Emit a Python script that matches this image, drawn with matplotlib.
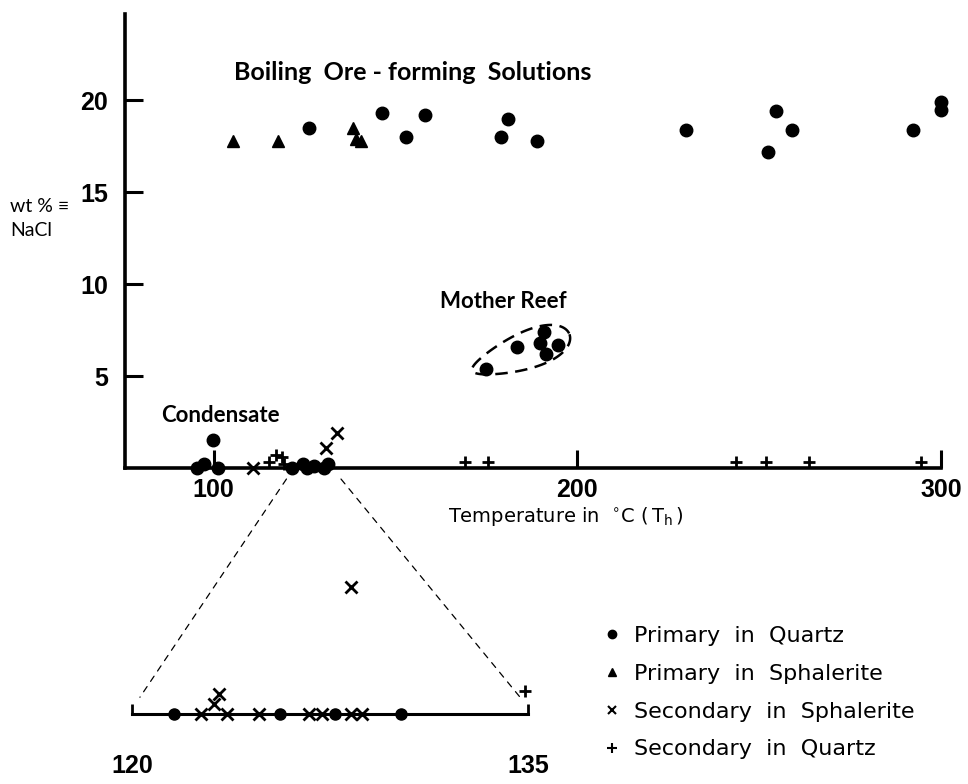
import matplotlib
matplotlib.use("Agg")
import matplotlib.pyplot as plt
from matplotlib.patches import ConnectionPatch, Polygon
from matplotlib.lines import Line2D
import numpy as np

# ---------------- data ----------------
# Primary in Quartz - main plot (T in deg C, wt% NaCl)
pq_T = [126.1, 146.4, 153.0, 158.0, 179.1, 181.0, 189.0, 229.9, 252.5, 254.7,
        259.1, 292.3, 300.0, 300.0,
        175.0, 183.5, 190.7, 189.8, 191.5, 194.8,
        99.7, 95.3, 97.3, 101.1,
        121.6, 124.5, 125.6, 127.7, 130.2, 131.5]
pq_W = [18.5, 19.3, 18.0, 19.2, 18.0, 19.0, 17.8, 18.4, 17.2, 19.4,
        18.4, 18.4, 19.5, 19.9,
        5.4, 6.6, 7.4, 6.8, 6.2, 6.7,
        1.5, 0.0, 0.2, 0.0,
        0.0, 0.2, 0.0, 0.1, 0.0, 0.2]
# Mother Reef subset
mother_reef_T = [175.0, 183.5, 190.7, 189.8, 191.5, 194.8]
mother_reef_W = [5.4, 6.6, 7.4, 6.8, 6.2, 6.7]

# Primary in Sphalerite
ps_T = [105.2, 117.6, 138.2, 139.0, 140.4]
ps_W = [17.8, 17.8, 18.5, 17.9, 17.8]

# Secondary in Sphalerite
ss_T = [110.7, 130.8, 133.8]
ss_W = [0.0, 1.1, 1.9]

# Secondary in Quartz
sq_T = [115.1, 117.0, 118.9, 119.3, 169.0, 175.3, 243.7, 251.9, 263.7, 294.5]
sq_W = [0.3, 0.7, 0.6, 0.2, 0.3, 0.3, 0.3, 0.3, 0.3, 0.3]

# Expanded 120-135 range (inset)
in_pq_T = [121.6, 125.6, 127.7, 130.2]
in_pq_W = [0.0, 0.0, 0.0, 0.0]
in_ss_T = [122.6, 123.1, 123.3, 123.6, 124.8, 126.7, 127.2, 128.3, 128.7, 128.3]
in_ss_W = [0.0, 0.15, 0.3, 0.0, 0.0, 0.0, 0.0, 0.0, 0.0, 1.9]
in_sq_T = [134.9]
in_sq_W = [0.34]

x_ticks = [100, 200, 300]
y_ticks = [5, 10, 15, 20]
inset_ticks = [120, 135]

# ---------------- figure ----------------
W, H = 968, 784
fig = plt.figure(figsize=(W / 100, H / 100), dpi=100)
num_font = "Liberation Sans"
txt_font = "Lato"
leg_font = "DejaVu Sans"

def fx(px):
    return px / W

def fy(py):
    return 1 - py / H

ax = fig.add_axes([fx(125), fy(468), (941 - 125) / W, (468 - 14) / H])
ax.set_xlim(75.6, 300)
ax.set_ylim(0, 24.7)
for s in ["top", "right"]:
    ax.spines[s].set_visible(False)
for s in ["left", "bottom"]:
    ax.spines[s].set_linewidth(2.6)
ax.set_xticks(x_ticks)
ax.set_yticks(y_ticks)
ax.tick_params(axis="both", direction="in", length=13, width=2.2)
ax.tick_params(axis="x", pad=7)
ax.tick_params(axis="y", pad=12)
for lab in ax.get_xticklabels() + ax.get_yticklabels():
    lab.set_fontfamily(num_font)
    lab.set_fontweight("bold")
    lab.set_fontsize(18)

ms_c = 9
ax.plot(pq_T, pq_W, "o", color="black", ms=ms_c, clip_on=False, label="Primary in Quartz")
ax.plot(ps_T, ps_W, "^", color="black", ms=8, clip_on=False, label="Primary in Sphalerite")
ax.plot(ss_T, ss_W, "x", color="black", ms=8, mew=2, clip_on=False, label="Secondary in Sphalerite")
ax.plot(sq_T, sq_W, "+", color="black", ms=9, mew=2, clip_on=False, label="Secondary in Quartz")

# dashed outline around Mother Reef points (computed in display space)
pts = ax.transData.transform(np.column_stack([mother_reef_T, mother_reef_W]))
c = pts.mean(axis=0)
d = pts - c
u, sv, vt = np.linalg.svd(d, full_matrices=False)
ax1 = vt[0]
ax2 = vt[1]
p1 = d @ ax1
p2 = d @ ax2
th = np.linspace(0, 2 * np.pi, 200)
a = (p1.max() - p1.min()) / 2 + 14
b = (p2.max() - p2.min()) / 2 + 13
mid1 = (p1.max() + p1.min()) / 2
wid = b * (0.75 + 0.25 * np.cos(th)) if ax1[0] > 0 else b * (0.75 - 0.25 * np.cos(th))
outline = c + np.outer(mid1 + a * np.cos(th), ax1) + np.outer(wid * np.sin(th), ax2)
outline_data = ax.transData.inverted().transform(outline)
ax.add_patch(Polygon(outline_data, closed=True, fill=False, ls=(0, (5, 3)), lw=1.8, ec="black"))

ax.text(105.5, 21.5, "Boiling  Ore - forming  Solutions", fontsize=18, fontfamily=txt_font,
        fontweight="bold", ha="left", va="center")
ax.text(179.5, 9.05, "Mother Reef", fontsize=16, fontfamily=txt_font, fontweight="bold",
        ha="center", va="center")
ax.text(85.4, 2.85, "Condensate", fontsize=16, fontfamily=txt_font, fontweight="bold",
        ha="left", va="center")

fig.text(fx(10), fy(207), "wt % \u2261", fontsize=14, fontfamily=[txt_font, "DejaVu Sans"],
         ha="left", va="center")
fig.text(fx(10), fy(230), "NaCl", fontsize=14, fontfamily=txt_font, ha="left", va="center")
fig.text(fx(566), fy(516), r"Temperature in  $^{\circ}$C $(\,$T$_{\rm h}\,)$", fontsize=14,
         fontfamily=leg_font, ha="center", va="center")

# ---------------- inset (120-135 expanded) ----------------
inset_base = 714
inset_h = 134
axi = fig.add_axes([fx(132), fy(inset_base), (528 - 132) / W, inset_h / H])
axi.set_xlim(120, 135)
axi.set_ylim(0, 2.0)
axi.patch.set_alpha(0)
for s in ["top", "right", "left"]:
    axi.spines[s].set_visible(False)
axi.spines["bottom"].set_linewidth(2.2)
axi.set_yticks([])
axi.set_xticks(inset_ticks)
axi.tick_params(axis="x", direction="in", length=7, width=2, pad=29)
for lab in axi.get_xticklabels():
    lab.set_fontfamily(num_font)
    lab.set_fontweight("bold")
    lab.set_fontsize(18)
axi.plot(in_pq_T, in_pq_W, "o", color="black", ms=8, clip_on=False)
axi.plot(in_ss_T, in_ss_W, "x", color="black", ms=8, mew=2, clip_on=False)
axi.plot(in_sq_T, in_sq_W, "+", color="black", ms=9, mew=2, clip_on=False)

for t0, t1 in [(120, 120.3), (135, 134.7)]:
    con = ConnectionPatch(xyA=(t0, -0.6), coordsA=ax.transData,
                          xyB=(t1, 0.25), coordsB=axi.transData,
                          ls=(0, (5, 5)), lw=0.9, color="black")
    fig.add_artist(con)

# ---------------- legend ----------------
handles = [
    Line2D([], [], marker="o", ls="none", color="black", ms=6),
    Line2D([], [], marker="^", ls="none", color="black", ms=6),
    Line2D([], [], marker="x", ls="none", color="black", ms=6, mew=1.5),
    Line2D([], [], marker="+", ls="none", color="black", ms=7, mew=1.5),
]
labels = ["Primary  in  Quartz", "Primary  in  Sphalerite", "Secondary  in  Sphalerite",
          "Secondary  in  Quartz"]
fig.legend(handles, labels, loc="upper left", bbox_to_anchor=(fx(583), fy(606)),
           frameon=False, prop={"family": leg_font, "size": 16}, handlelength=0.8,
           handletextpad=0.6, labelspacing=0.8)

fig.savefig("out.png", dpi=100)
